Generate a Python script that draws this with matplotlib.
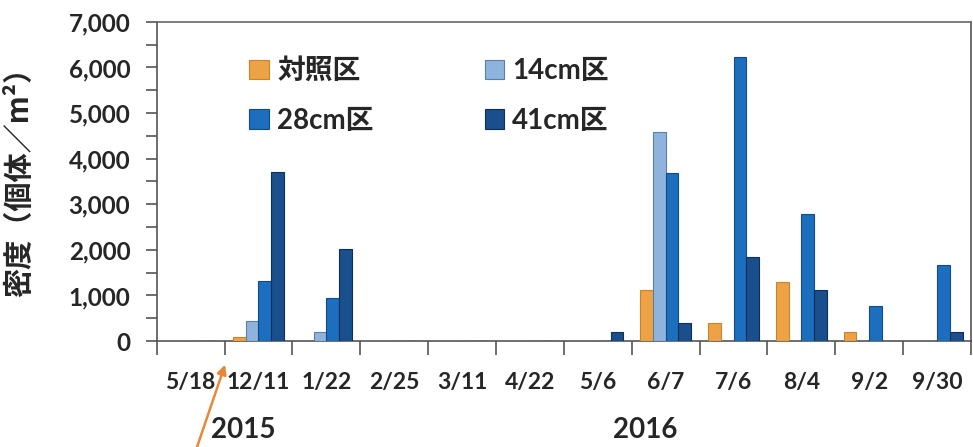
import matplotlib
matplotlib.use("Agg")
import matplotlib.pyplot as plt
import numpy as np
from matplotlib.ticker import MultipleLocator, FuncFormatter

plt.rcParams['font.family'] = ['Lato', 'Noto Sans CJK JP', 'DejaVu Sans']
plt.rcParams['font.weight'] = 'bold'

dates = ["5/18", "12/11", "1/22", "2/25", "3/11", "4/22", "5/6", "6/7", "7/6", "8/4", "9/2", "9/30"]
series_names = ["対照区", "14cm区", "28cm区", "41cm区"]
control = [0, 90, 0, 0, 0, 0, 0, 1120, 400, 1300, 200, 0]
cm14 = [0, 440, 200, 0, 0, 0, 0, 4580, 0, 0, 0, 0]
cm28 = [0, 1310, 940, 0, 0, 0, 0, 3680, 6230, 2780, 770, 1670]
cm41 = [0, 3710, 2010, 0, 0, 0, 200, 400, 1850, 1120, 0, 200]
years = ["2015", "2016"]

colors = ["#EDA345", "#8EB3DD", "#1C6EBE", "#184F8C"]
edges = ["#C9832A", "#5A7FA8", "#124A85", "#0E2F5A"]
txt = "#262626"

fig = plt.figure(figsize=(9.73, 4.47), dpi=100)
ax = fig.add_axes([0.161, 0.237, 0.837, 0.714])

x = np.arange(len(dates))
w = 0.188
data = [control, cm14, cm28, cm41]
for i, (vals, c, ec, name) in enumerate(zip(data, colors, edges, series_names)):
    ax.bar(x + (i - 1.5) * w, vals, width=w, color=c, edgecolor=ec, linewidth=0.8,
           label=name, zorder=3)

ax.set_xlim(-0.5, len(dates) - 0.5)
ax.set_ylim(0, 7000)
ax.yaxis.set_major_locator(MultipleLocator(1000))
ax.yaxis.set_minor_locator(MultipleLocator(500))
ax.yaxis.set_major_formatter(FuncFormatter(lambda v, p: f"{int(v):,}"))
ax.tick_params(axis='y', which='both', direction='out', length=8, width=1.2,
               colors="#555555", labelcolor=txt, labelsize=17.5, pad=11)

# category boundaries as tick marks, labels centred in each slot
ax.set_xticks(np.arange(len(dates) + 1) - 0.5)
ax.set_xticklabels([])
ax.set_xticks(x, minor=True)
ax.set_xticklabels(dates, minor=True, fontsize=16.5, color=txt)
ax.tick_params(axis='x', which='major', direction='out', length=10, width=1.2, colors="#555555")
ax.tick_params(axis='x', which='minor', length=0, pad=22)

for s in ax.spines.values():
    s.set_color("#555555")
    s.set_linewidth(1.2)
ax.spines['top'].set_color("#666666")

ax.set_ylabel("密度（個体／m²）", fontsize=21, color=txt, fontweight='bold',
              family=['Noto Sans CJK JP', 'DejaVu Sans'])
ax.yaxis.set_label_coords(-0.150, 0.52)

handles, labels = ax.get_legend_handles_labels()
order = [0, 2, 1, 3]
leg = ax.legend([handles[k] for k in order], [labels[k] for k in order], ncol=2,
                frameon=False, loc='upper left', bbox_to_anchor=(0.083, 0.965),
                prop={'size': 20, 'weight': 'bold', 'family': ['Lato', 'Noto Sans CJK JP']},
                handlelength=0.7, handleheight=0.7, handletextpad=0.3,
                columnspacing=4.0, labelspacing=0.85)
for t in leg.get_texts():
    t.set_color(txt)

fig.text(243 / 973, 1 - 430 / 447, years[0], fontsize=20, color=txt, ha='center', va='center')
fig.text(645 / 973, 1 - 430 / 447, years[1], fontsize=20, color=txt, ha='center', va='center')

# arrow marking the start of the survey
ax.annotate("", xy=(226 / 973, 1 - 362 / 447), xycoords='figure fraction',
            xytext=(196 / 973, 1 - 450 / 447), textcoords='figure fraction',
            arrowprops=dict(arrowstyle="-|>", color="#E8873A", lw=1.8, mutation_scale=14),
            annotation_clip=False)

fig.savefig("out.png", dpi=100)
